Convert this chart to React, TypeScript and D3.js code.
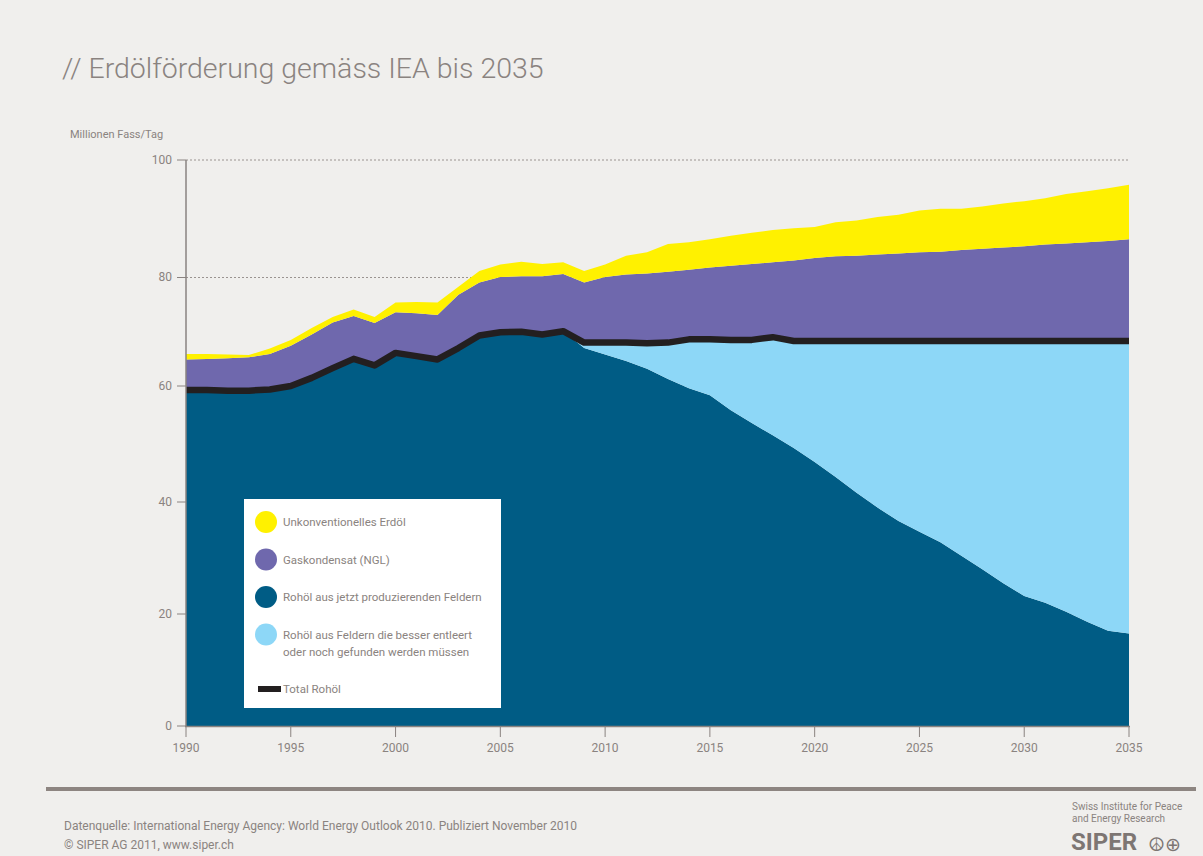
import * as d3 from 'd3'

const years = d3.range(1990, 2036)

// Rohöl aus jetzt produzierenden Feldern
const existingFields = [
  59.3, 59.3, 59.2, 59.2, 59.4, 60.0, 61.5, 63.3, 65.0, 63.8,
  66.1, 65.5, 64.9, 67.0, 69.3, 69.9, 70.0, 69.5, 70.1, 67.0,
  65.8, 64.6, 63.2, 61.3, 59.6, 58.4, 55.8, 53.6, 51.5, 49.3,
  46.9, 44.3, 41.6, 39.0, 36.6, 34.7, 32.8, 30.4, 28.0, 25.5,
  23.2, 22.0, 20.4, 18.6, 17.0, 16.5,
]
// Total Rohöl
const crudeTotal = [
  59.3, 59.3, 59.2, 59.2, 59.4, 60.0, 61.5, 63.3, 65.0, 63.8,
  66.1, 65.5, 64.9, 67.0, 69.3, 69.9, 70.0, 69.5, 70.1, 68.0,
  68.0, 68.0, 67.9, 68.0, 68.6, 68.6, 68.5, 68.5, 69.0, 68.3,
  68.3, 68.3, 68.3, 68.3, 68.3, 68.3, 68.3, 68.3, 68.3, 68.3,
  68.3, 68.3, 68.3, 68.3, 68.3, 68.3,
]
// Gaskondensat (NGL)
const ngl = [
  5.6, 5.7, 5.9, 6.1, 6.5, 7.4, 8.0, 8.4, 7.9, 7.8,
  7.5, 7.9, 8.2, 9.8, 9.8, 10.2, 10.2, 10.7, 10.5, 11.1,
  12.1, 12.5, 12.8, 13.0, 12.7, 13.1, 13.5, 13.8, 13.6, 14.6,
  15.0, 15.3, 15.4, 15.6, 15.8, 16.0, 16.1, 16.4, 16.6, 16.8,
  17.0, 17.3, 17.5, 17.7, 17.9, 18.2,
]
// Unkonventionelles Erdöl
const unconventional = [
  1.0, 0.9, 0.7, 0.4, 1.0, 1.1, 1.2, 1.0, 1.2, 1.1,
  1.8, 2.1, 2.3, 1.5, 2.0, 2.1, 2.5, 2.1, 2.0, 2.0,
  2.1, 3.2, 3.6, 4.7, 4.7, 4.8, 5.1, 5.3, 5.5, 5.5,
  5.3, 5.8, 6.0, 6.4, 6.6, 7.1, 7.3, 7.0, 7.2, 7.5,
  7.7, 7.9, 8.4, 8.7, 9.0, 9.3,
]

const yTicks = [0, 20, 40, 60, 80, 100]
const xTicks = [1990, 1995, 2000, 2005, 2010, 2015, 2020, 2025, 2030, 2035]

const keys = ['existing', 'newFields', 'ngl', 'unconv'] as const
const colors: Record<string, string> = {
  existing: '#005c85',
  newFields: '#8dd7f7',
  ngl: '#6f68ad',
  unconv: '#fff100',
}

const legendItems = [
  { color: colors.unconv, lines: ['Unkonventionelles Erdöl'] },
  { color: colors.ngl, lines: ['Gaskondensat (NGL)'] },
  { color: colors.existing, lines: ['Rohöl aus jetzt produzierenden Feldern'] },
  { color: colors.newFields, lines: ['Rohöl aus Feldern die besser entleert', 'oder noch gefunden werden müssen'] },
]

const grey = '#8a8380'
const font = "'Roboto', 'Noto Sans', sans-serif"

export default function App() {
  const rows = years.map((year, i) => ({
    year,
    existing: existingFields[i],
    newFields: crudeTotal[i] - existingFields[i],
    ngl: ngl[i],
    unconv: unconventional[i],
  }))

  const x = d3.scaleLinear().domain([1990, 2035]).range([186, 1129])
  const y = d3
    .scaleLinear()
    .domain([0, 20, 40, 60, 80, 100])
    .range([726, 614, 502, 386, 277.5, 160])

  const series = d3.stack<any>().keys(keys as unknown as string[])(rows)
  const area = d3
    .area<any>()
    .x(d => x(d.data.year))
    .y0(d => y(d[0]))
    .y1(d => y(d[1]))
  const crudeLine = d3
    .line<number>()
    .x((_, i) => x(years[i]))
    .y(d => y(d))

  return (
    <svg
      width={1203}
      height={856}
      style={{ position: 'absolute', left: 0, top: 0, fontFamily: font }}
    >
      <rect x={0} y={0} width={1203} height={856} fill="#f0efed" />

      <text x={62} y={78} fontSize={28.5} fontWeight={300} fill={grey}>
        // Erdölförderung gemäss IEA bis 2035
      </text>

      <text x={70} y={138} fontSize={11} fill={grey}>
        Millionen Fass/Tag
      </text>

      {/* gridlines */}
      {yTicks.filter(t => t > 0).map(t => (
        <line
          key={'g' + t}
          x1={186}
          x2={1129}
          y1={y(t)}
          y2={y(t)}
          stroke="#9a9390"
          strokeWidth={1}
          strokeDasharray="2,2"
        />
      ))}

      {series.map(s => (
        <path key={s.key} d={area(s) || ''} fill={colors[s.key]} />
      ))}

      <path
        d={crudeLine(crudeTotal) || ''}
        fill="none"
        stroke="#231f20"
        strokeWidth={6.5}
        strokeLinejoin="round"
      />

      {/* y axis */}
      <line x1={186} x2={186} y1={160} y2={727} stroke={grey} strokeWidth={1.5} />
      {yTicks.map(t => (
        <g key={'y' + t}>
          <line x1={177} x2={186} y1={y(t)} y2={y(t)} stroke={grey} strokeWidth={1} />
          <text x={172} y={y(t)} dy="0.32em" textAnchor="end" fontSize={12} fill={grey}>
            {t}
          </text>
        </g>
      ))}

      {/* x axis */}
      <line x1={185} x2={1130} y1={726.5} y2={726.5} stroke={grey} strokeWidth={1.5} />
      {xTicks.map(t => (
        <g key={'x' + t}>
          <line x1={x(t)} x2={x(t)} y1={726} y2={737} stroke={grey} strokeWidth={1} />
          <text x={x(t)} y={752} textAnchor="middle" fontSize={12} fill={grey}>
            {t}
          </text>
        </g>
      ))}

      {/* legend */}
      <rect x={244} y={499} width={257} height={209} fill="#ffffff" />
      {legendItems.map((item, i) => {
        const cy = 522 + i * 37.5
        return (
          <g key={'l' + i}>
            <circle cx={266} cy={cy} r={11} fill={item.color} />
            {item.lines.map((ln, j) => (
              <text key={j} x={283} y={cy + j * 17} dy="0.35em" fontSize={11.5} fill={grey}>
                {ln}
              </text>
            ))}
          </g>
        )
      })}
      <rect x={258} y={686} width={23} height={6} fill="#231f20" />
      <text x={283} y={689} dy="0.35em" fontSize={11.5} fill={grey}>
        Total Rohöl
      </text>

      {/* footer */}
      <rect x={46} y={787} width={1150} height={4} fill="#8d8581" />
      <text x={64} y={830} fontSize={12} fill={grey}>
        Datenquelle: International Energy Agency: World Energy Outlook 2010. Publiziert November 2010
      </text>
      <text x={64} y={849} fontSize={12} fill={grey}>
        © SIPER AG 2011, www.siper.ch
      </text>

      <text x={1072} y={810} fontSize={10} fill={grey}>
        Swiss Institute for Peace
      </text>
      <text x={1072} y={822} fontSize={10} fill={grey}>
        and Energy Research
      </text>
      <text x={1071} y={850} fontSize={24} fontWeight={700} fill="#7d7673">
        SIPER
      </text>
      <text x={1148} y={851} fontSize={19} fill="#7d7673" fontFamily="'DejaVu Sans', sans-serif">
        ☮⊕
      </text>
    </svg>
  )
}
